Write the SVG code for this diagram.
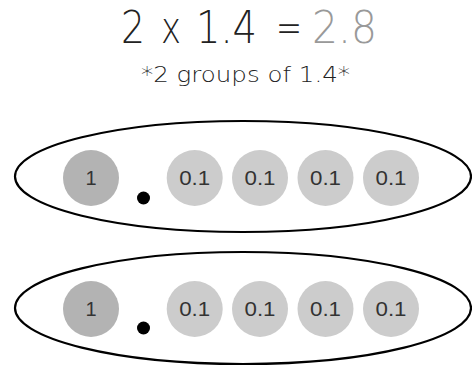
<svg xmlns="http://www.w3.org/2000/svg" width="472" height="366" viewBox="0 0 472 366">
<style>
.t{font-family:"DejaVu Sans","Liberation Sans",Arial,sans-serif;fill:#222;font-weight:200}
.g{fill:#999}
.lbl{font-family:"Liberation Sans",Arial,sans-serif;font-size:20px;fill:#333;text-anchor:middle}
.ring{fill:none;stroke:#000;stroke-width:2.2}
.one{fill:#b3b3b3}
.tenth{fill:#cccccc}
</style>
<rect width="472" height="366" fill="#fff"/>
<g id="title">
<text class="t" font-size="45" x="121" y="43" textLength="24" lengthAdjust="spacingAndGlyphs">2</text>
<text class="t" font-size="45" x="161" y="43" textLength="20" lengthAdjust="spacingAndGlyphs">x</text>
<text class="t" font-size="45" x="196" y="43" textLength="61" lengthAdjust="spacingAndGlyphs">1.4</text>
<text class="t" font-size="45" x="276" y="43" textLength="26" lengthAdjust="spacingAndGlyphs">=</text>
<text class="t g" font-size="45" x="312" y="43" textLength="65" lengthAdjust="spacingAndGlyphs">2.8</text>
</g>
<g id="subtitle">
<text class="t" font-size="22" x="141" y="82" textLength="209" lengthAdjust="spacingAndGlyphs">*2 groups of 1.4*</text>
</g>
<g id="group1">
<ellipse class="ring" cx="243" cy="176.5" rx="228" ry="55.5"/>
<circle class="one" cx="91" cy="178" r="28"/>
<text class="lbl" x="91" y="185">1</text>
<circle cx="143.5" cy="198" r="6.5" fill="#000"/>
<circle class="tenth" cx="194.7" cy="178" r="28"/>
<text class="lbl" x="194.7" y="185" textLength="31" lengthAdjust="spacingAndGlyphs">0.1</text>
<circle class="tenth" cx="260" cy="178" r="28"/>
<text class="lbl" x="260" y="185" textLength="31" lengthAdjust="spacingAndGlyphs">0.1</text>
<circle class="tenth" cx="325.5" cy="178" r="28"/>
<text class="lbl" x="325.5" y="185" textLength="31" lengthAdjust="spacingAndGlyphs">0.1</text>
<circle class="tenth" cx="391" cy="178" r="28"/>
<text class="lbl" x="391" y="185" textLength="31" lengthAdjust="spacingAndGlyphs">0.1</text>
</g>
<g id="group2">
<ellipse class="ring" cx="243" cy="308" rx="228" ry="56"/>
<circle class="one" cx="91" cy="309" r="28"/>
<text class="lbl" x="91" y="316">1</text>
<circle cx="143.5" cy="328" r="6.5" fill="#000"/>
<circle class="tenth" cx="194.7" cy="309" r="28"/>
<text class="lbl" x="194.7" y="316" textLength="31" lengthAdjust="spacingAndGlyphs">0.1</text>
<circle class="tenth" cx="260" cy="309" r="28"/>
<text class="lbl" x="260" y="316" textLength="31" lengthAdjust="spacingAndGlyphs">0.1</text>
<circle class="tenth" cx="325.5" cy="309" r="28"/>
<text class="lbl" x="325.5" y="316" textLength="31" lengthAdjust="spacingAndGlyphs">0.1</text>
<circle class="tenth" cx="391" cy="309" r="28"/>
<text class="lbl" x="391" y="316" textLength="31" lengthAdjust="spacingAndGlyphs">0.1</text>
</g>
<g id="connectors"/>
</svg>
